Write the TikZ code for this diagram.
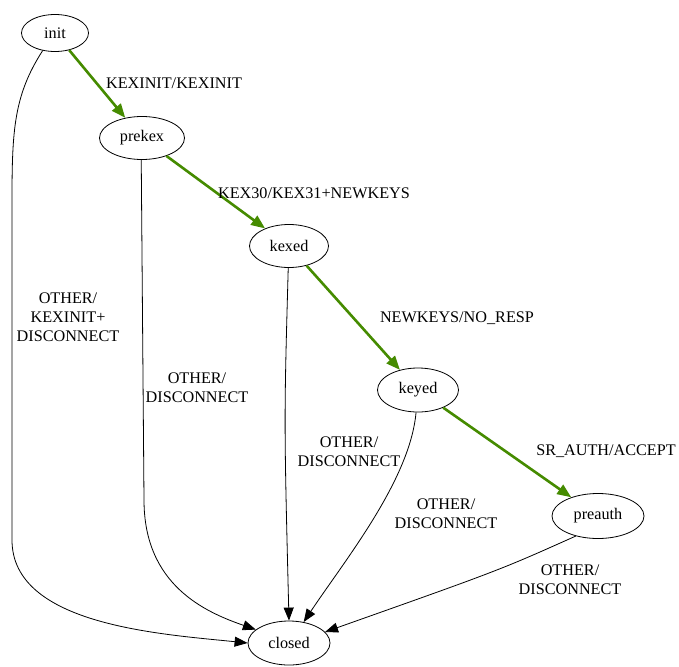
\documentclass[tikz,border=0pt]{standalone}
\usepackage{fontspec}
\setmainfont{Liberation Serif}
\usetikzlibrary{shapes.geometric,arrows.meta}
\definecolor{okgreen}{RGB}{69,139,0}
\begin{document}
\begin{tikzpicture}[
    x=1pt, y=-1pt,
    every node/.style={font=\fontsize{16.2}{19}\selectfont},
    state/.style={
        draw,
        ellipse,
        thick,
        inner sep=0pt,
        minimum width=82pt,
        minimum height=44pt
    },
    lbl/.style={
        align=center,
        inner sep=0pt
    },
    ok/.style={
        draw=okgreen,
        line width=2.6pt,
        -{Triangle[length=14pt,width=11pt,fill=okgreen]}
    },
    fail/.style={
        draw,
        thick,
        -{Triangle[length=13pt,width=10pt]}
    }
]
    \useasboundingbox (0,0) rectangle (679,666);

    % States
    \node[state, minimum width=67pt, minimum height=37pt] (init) at (55,33) {init};
    \node[state, minimum width=85pt, minimum height=43pt] (prekex) at (142,138) {prekex};
    \node[state, minimum width=79pt, minimum height=43pt] (kexed) at (289,246) {kexed};
    \node[state, minimum width=81pt] (keyed) at (418,390) {keyed};
    \node[state, minimum width=92pt, minimum height=45pt] (preauth) at (598,516) {preauth};
    \node[state] (closed) at (289,643) {closed};

    % Handshake path
    \draw[ok] (init) -- (prekex);
    \draw[ok] (prekex) -- (kexed);
    \draw[ok] (kexed) -- (keyed);
    \draw[ok] (keyed) -- (preauth);

    \node[lbl] (l1) at (174,83) {KEXINIT/KEXINIT};
    \node[lbl] (l2) at (314,193) {KEX30/KEX31+NEWKEYS};
    \node[lbl] (l3) at (457,318) {NEWKEYS/NO\_RESP};
    \node[lbl] (l4) at (606,451) {SR\_AUTH/ACCEPT};

    % Failures
    \draw[fail] (init.235) .. controls (14,95) and (12,130) .. (12,200)
        -- (12,540) .. controls (12,625) and (160,634) .. (closed.west);
    \draw[fail] (prekex.268) -- (144,500) .. controls (144,585) and (205,612) .. (closed.158);
    \draw[fail] (kexed.268) .. controls (284,420) .. (closed.north);
    \draw[fail] (keyed.265) .. controls (410,480) and (345,560) .. (closed.55);
    \draw[fail] (preauth.222) .. controls (500,570) .. (closed.17);

    \node[lbl] (f1) at (68,317) {OTHER/\\KEXINIT+\\DISCONNECT};
    \node[lbl] (f2) at (197,388) {OTHER/\\DISCONNECT};
    \node[lbl] (f3) at (349,452) {OTHER/\\DISCONNECT};
    \node[lbl] (f4) at (446,514) {OTHER/\\DISCONNECT};
    \node[lbl] (f5) at (570,580) {OTHER/\\DISCONNECT};

\end{tikzpicture}
\end{document}
